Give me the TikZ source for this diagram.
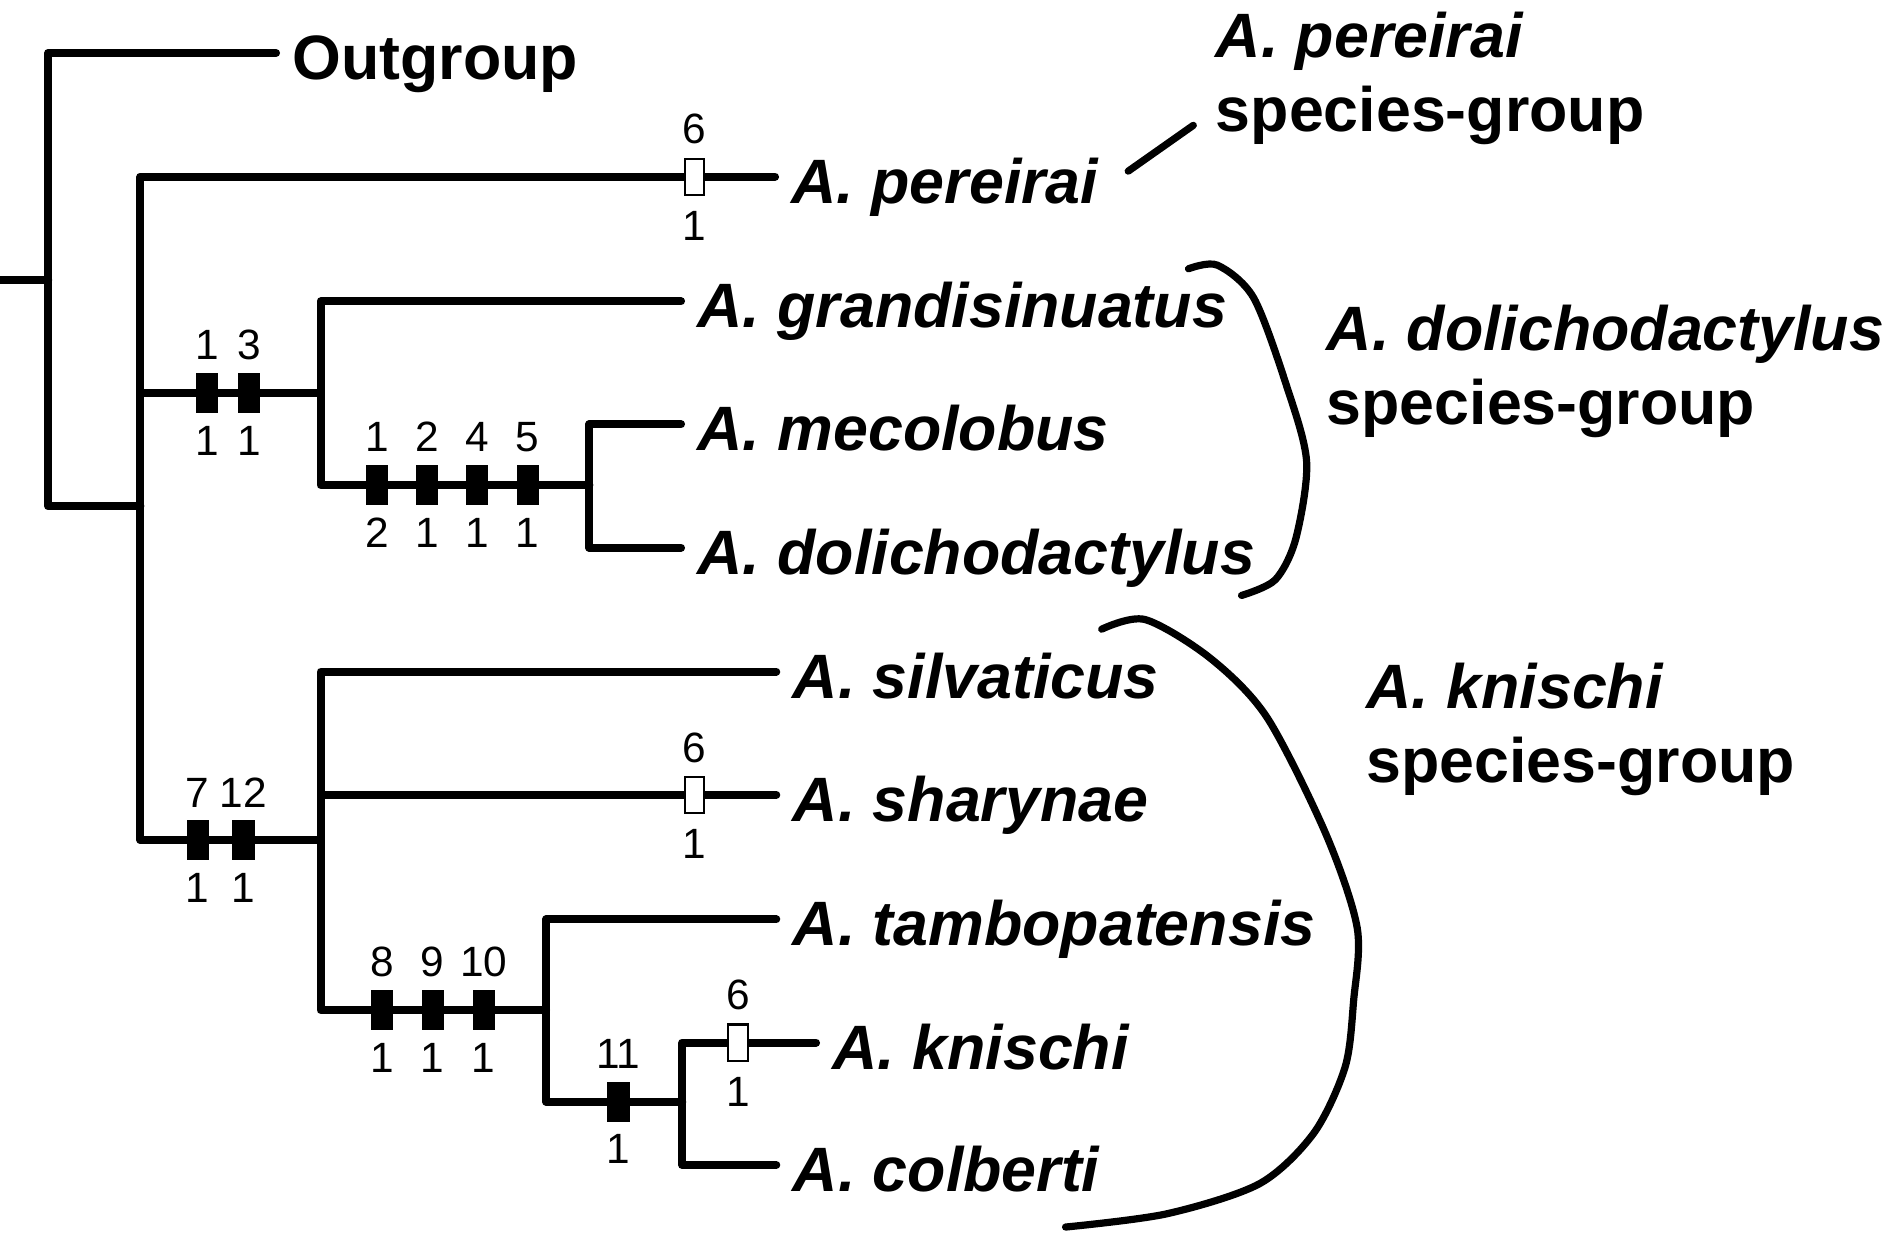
\documentclass[tikz,border=0pt]{standalone}
\usepackage{fontspec}
\setmainfont{Liberation Sans}
\usetikzlibrary{positioning}
\newcommand{\taxfont}{\fontsize{14.8}{17.6}\selectfont\bfseries}
\newcommand{\numfont}{\fontsize{10}{12}\selectfont}

\begin{document}
\begin{tikzpicture}
\tikzset{
  branch/.style={line width=1.9pt,line cap=round,line join=round},
  taxon/.style={anchor=west,font=\taxfont\itshape,inner xsep=0.13cm,inner ysep=0pt,text height=0.44cm,text depth=0pt},
  grouplbl/.style={anchor=north west,font=\taxfont,align=left,inner sep=0pt},
  num/.style={font=\numfont,inner sep=0pt,outer sep=0pt},
  synbox/.style={fill=black,minimum width=0.185cm,minimum height=0.335cm,inner sep=0pt,outer sep=0pt},
  homobox/.style={draw=black,line width=0.5pt,fill=white,minimum width=0.16cm,minimum height=0.30cm,inner sep=0pt},
  bracket/.style={line width=1.7pt,line cap=round}
}
\useasboundingbox (0,0) rectangle (15.68,-10.23);

% terminal taxa
\node[taxon,font=\taxfont] (out) at (2.29,-0.44) {Outgroup};
\node[taxon] (per) at (6.43,-1.466) {A. pereirai};
\node[taxon] (gra) at (5.65,-2.50) {A. grandisinuatus};
\node[taxon] (mec) at (5.65,-3.52) {A. mecolobus};
\node[taxon] (dol) at (5.65,-4.544) {A. dolichodactylus};
\node[taxon] (sil) at (6.44,-5.572) {A. silvaticus};
\node[taxon] (sha) at (6.44,-6.595) {A. sharynae};
\node[taxon] (tam) at (6.44,-7.627) {A. tambopatensis};
\node[taxon] (kni) at (6.77,-8.65) {A. knischi};
\node[taxon] (col) at (6.44,-9.665) {A. colberti};

% species-group names
\node[grouplbl] (grpPer) at (10.08,-0.09) {\textit{A. pereirai}\\species-group};
\node[grouplbl] (grpDol) at (11.00,-2.52) {\textit{A. dolichodactylus}\\species-group};
\node[grouplbl] (grpKni) at (11.33,-5.49) {\textit{A. knischi}\\species-group};

% internal nodes
\coordinate (stub) at (0,-2.32);
\coordinate (n1) at (0.40,-2.32);
\coordinate (n2) at (1.165,-4.20);
\coordinate (n3) at (2.66,-3.26);
\coordinate (n4) at (4.89,-4.024);
\coordinate (n5) at (2.66,-6.97);
\coordinate (n6) at (4.53,-8.38);
\coordinate (n7) at (5.66,-9.14);

% branches
\draw[branch] (stub) -- (n1);
\draw[branch] (n1) |- (out.west);
\draw[branch] (n1) |- (n2);
\draw[branch] (n2) |- (per.west);
\draw[branch] (n2) |- (n3);
\draw[branch] (n2) |- (n5);
\draw[branch] (n3) |- (gra.west);
\draw[branch] (n3) |- (n4);
\draw[branch] (n4) |- (mec.west);
\draw[branch] (n4) |- (dol.west);
\draw[branch] (n5) |- (sil.west);
\draw[branch] (n5) |- (sha.west);
\draw[branch] (n5) |- (n6);
\draw[branch] (n6) |- (tam.west);
\draw[branch] (n6) |- (n7);
\draw[branch] (n7) |- (kni.west);
\draw[branch] (n7) |- (col.west);

% character changes
\foreach \mx/\my/\chtop/\chst [count=\i] in {1.717/-3.26/1/1, 2.064/-3.26/3/1,
    3.126/-4.024/1/2, 3.542/-4.024/2/1, 3.96/-4.024/4/1, 4.378/-4.024/5/1,
    1.64/-6.97/7/1, 2.02/-6.97/12/1, 3.17/-8.38/8/1, 3.59/-8.38/9/1,
    4.013/-8.38/10/1, 5.13/-9.14/11/1}{
  \node[synbox] (syn\i) at (\mx,\my) {};
  \node[num,above=0.107cm of syn\i] (synT\i) {\chtop};
  \node[num,below=0.107cm of syn\i] (synB\i) {\chst};
}
\foreach \mx/\my [count=\i] in {5.76/-1.466, 5.762/-6.595, 6.123/-8.65}{
  \node[homobox] (hom\i) at (\mx,\my) {};
  \node[num,above=0.11cm of hom\i] (homT\i) {6};
  \node[num,below=0.13cm of hom\i] (homB\i) {1};
}

% group brackets
\coordinate (perTip) at (9.36,-1.42);
\coordinate (perGrp) at (9.90,-1.04);
\draw[bracket] (perTip) -- (perGrp);
\draw[bracket] plot[smooth] coordinates {(9.86,-2.23) (10.10,-2.20) (10.40,-2.47)
  (10.67,-3.19) (10.84,-3.83) (10.75,-4.47) (10.58,-4.81) (10.30,-4.94)};
\draw[bracket] plot[smooth] coordinates {(9.14,-5.22) (9.50,-5.14) (10.04,-5.46)
  (10.51,-5.95) (11.00,-6.92) (11.26,-7.70) (11.23,-8.30) (11.16,-8.85)
  (10.90,-9.40) (10.45,-9.82) (9.68,-10.07) (8.84,-10.18)};
\end{tikzpicture}
\end{document}
